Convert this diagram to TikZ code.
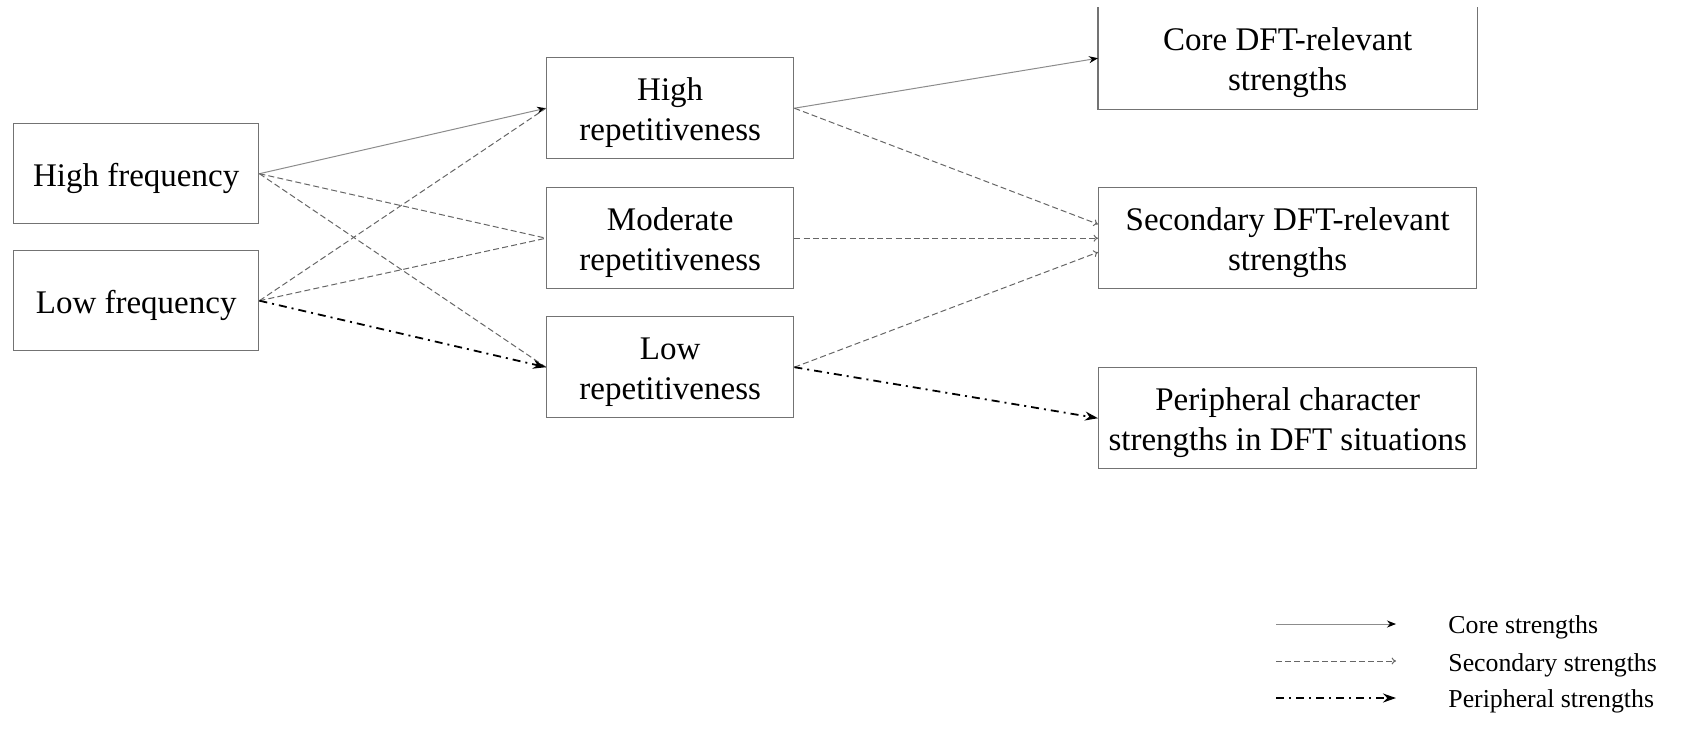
\documentclass[tikz,border=0pt]{standalone}
\usepackage{fontspec}
\setmainfont{Liberation Serif}
\usetikzlibrary{arrows.meta}
\newcommand\tstr{\rule{0pt}{16.2pt}}
\begin{document}
\begin{tikzpicture}[x=0.5pt,y=-0.5pt,
  box/.style={draw=black!55,line width=0.7pt,inner sep=0pt,align=center,anchor=north west,
    font=\fontsize{16.5}{20}\selectfont},
  leftbox/.style={box,minimum width=122.5pt,minimum height=50pt},
  midbox/.style={box,minimum width=123.5pt,minimum height=50.5pt},
  rightbox/.style={box,minimum width=189pt,minimum height=50.5pt},
  corearr/.style={draw=black!45,line width=0.5pt,-{Stealth[length=4.5pt,width=3.5pt,color=black]}},
  secarr/.style={draw=black!60,line width=0.5pt,dash pattern=on 3pt off 1.6pt},
  sechead/.style={secarr,-{To[length=2.2pt,width=3.5pt]}},
  perarr/.style={draw=black,line width=0.9pt,dash pattern=on 4pt off 2.5pt on 1pt off 2.5pt,
    -{Stealth[length=6.5pt,width=4.5pt]}},
  legtext/.style={anchor=base west,inner sep=0pt,font=\fontsize{12.9}{15}\selectfont}
]
\useasboundingbox (0,0) rectangle (1682,736);

% left column
\node[leftbox] (hf) at (13,123) {\tstr High frequency};
\node[leftbox] (lf) at (13,250) {\tstr Low frequency};

% middle column
\node[midbox] (hr) at (546,57) {\tstr High\\repetitiveness};
\node[midbox] (mr) at (546,187) {\tstr Moderate\\repetitiveness};
\node[midbox] (lr) at (546,316) {\tstr Low\\repetitiveness};

% right column
\node[rightbox,draw=none] (core) at (1098,7) {\tstr Core DFT-relevant\\strengths};
\draw[draw=black!55,line width=0.7pt] (core.north west) -- (core.south west) -- (core.south east) -- (core.north east);
\node[rightbox] (sec) at (1098,187) {\tstr Secondary DFT-relevant\\strengths};
\node[rightbox] (per) at (1098,367) {\tstr Peripheral character\\strengths in DFT situations};

% connectors: frequency -> repetitiveness
\draw[corearr] (hf.east) -- (hr.west);
\draw[secarr] (hf.east) -- (mr.west);
\draw[secarr] (hf.east) -- (lr.west);
\draw[secarr] (lf.east) -- (hr.west);
\draw[secarr] (lf.east) -- (mr.west);
\draw[perarr] (lf.east) -- (lr.west);

% connectors: repetitiveness -> strengths
\draw[corearr] (hr.east) -- (core.west);
\draw[sechead] (hr.east) -- ([yshift=7pt]sec.west);
\draw[sechead] (mr.east) -- (sec.west);
\draw[sechead] (lr.east) -- ([yshift=-7pt]sec.west);
\draw[perarr] (lr.east) -- (per.west);

% legend
\coordinate (l1a) at (1276,624); \coordinate (l1b) at (1396,624);
\coordinate (l2a) at (1276,661); \coordinate (l2b) at (1396,661);
\coordinate (l3a) at (1276,698); \coordinate (l3b) at (1396,698);
\draw[corearr] (l1a) -- (l1b);
\draw[sechead] (l2a) -- (l2b);
\draw[perarr] (l3a) -- (l3b);
\node[legtext] (t1) at (1448,633) {Core strengths};
\node[legtext] (t2) at (1448,671) {Secondary strengths};
\node[legtext] (t3) at (1448,707) {Peripheral strengths};
\end{tikzpicture}
\end{document}
